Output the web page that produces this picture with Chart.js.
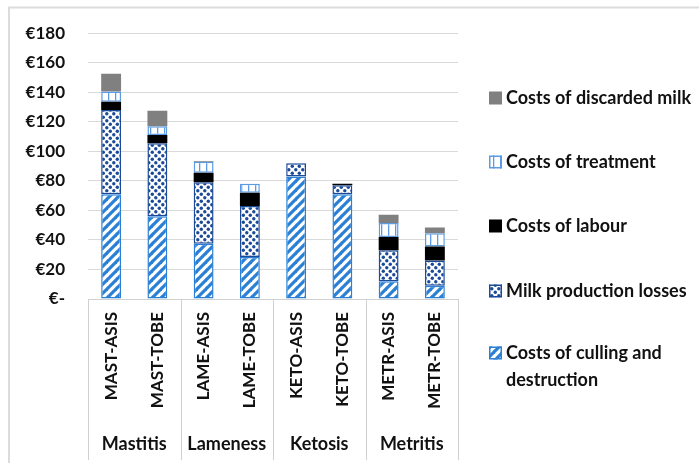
<!DOCTYPE html>
<html>
<head>
<meta charset="utf-8">
<script src="https://cdn.jsdelivr.net/npm/chart.js@4.4.1/dist/chart.umd.min.js"></script>
<style>
  html, body { margin: 0; padding: 0; background: #fff; }
  #wrap { width: 699px; height: 463px; position: relative; }
</style>
</head>
<body>
<div id="wrap"><canvas id="c" width="699" height="463"></canvas></div>
<script>
// ---- Data ----
const categories = ['MAST-ASIS', 'MAST-TOBE', 'LAME-ASIS', 'LAME-TOBE', 'KETO-ASIS', 'KETO-TOBE', 'METR-ASIS', 'METR-TOBE'];
const groups = ['Mastitis', 'Lameness', 'Ketosis', 'Metritis'];
const cullingCosts   = [71, 56, 37.5, 28.5, 83, 71, 12, 9];
const milkLosses     = [57, 49.5, 41.5, 34.5, 9, 6, 21, 17];
const labourCosts    = [5.5, 5.5, 6.5, 9, 0, 1, 9, 9.5];
const treatmentCosts = [7, 6, 7.5, 6, 0, 0, 9.5, 9];
const discardedMilk  = [12, 10.5, 0.5, 0, 0, 0, 5.5, 4];
const seriesNames = ['Costs of culling and destruction', 'Milk production losses', 'Costs of labour', 'Costs of treatment', 'Costs of discarded milk'];
const yTicks = [0, 20, 40, 60, 80, 100, 120, 140, 160, 180];

// ---- Patterns ----
const ctxMain = document.getElementById('c').getContext('2d');
function pat(w, h, draw) {
  const c = document.createElement('canvas');
  c.width = w; c.height = h;
  const g = c.getContext('2d');
  g.fillStyle = '#ffffff';
  g.fillRect(0, 0, w, h);
  draw(g, w, h);
  return ctxMain.createPattern(c, 'repeat');
}
const BLUE = '#2b80d6';
const DARKBLUE = '#1b4b98';
const LIGHTBLUE = '#5c9be3';

const stripePattern = pat(9, 9, (g, w, h) => {
  g.strokeStyle = BLUE; g.lineWidth = 3.2; g.lineCap = 'square';
  for (let k = -1; k <= 1; k++) {
    g.beginPath();
    g.moveTo(k * w, h);
    g.lineTo(k * w + w, 0);
    g.stroke();
  }
});
const dotPattern = pat(7, 7, (g) => {
  g.fillStyle = DARKBLUE;
  [[1.8, 1.8], [5.3, 5.3]].forEach(([x, y]) => {
    g.beginPath(); g.arc(x, y, 1.7, 0, Math.PI * 2); g.fill();
  });
});
const vlinePattern = pat(7, 4, (g, w, h) => {
  g.fillStyle = LIGHTBLUE;
  g.fillRect(3, 0, 1.3, h);
});

const styles = [
  { bg: stripePattern, border: BLUE, bw: 1.5 },
  { bg: dotPattern, border: DARKBLUE, bw: 1.5 },
  { bg: '#000000', border: '#000000', bw: 0 },
  { bg: vlinePattern, border: LIGHTBLUE, bw: 1.5 },
  { bg: '#808080', border: '#808080', bw: 0 }
];
const seriesValues = [cullingCosts, milkLosses, labourCosts, treatmentCosts, discardedMilk];

const datasets = seriesValues.map((vals, i) => ({
  label: seriesNames[i],
  data: vals,
  backgroundColor: styles[i].bg,
  borderColor: styles[i].border,
  borderWidth: styles[i].bw,
  borderSkipped: false,
  categoryPercentage: 1.0,
  barPercentage: 0.43,
  stack: 's'
}));

const FONT = 'Lato';
const TEXT = '#111111';

const framePlugin = {
  id: 'frame',
  beforeDraw(chart) {
    const c = chart.ctx;
    c.save();
    c.fillStyle = '#ffffff';
    c.fillRect(0, 0, chart.width, chart.height);
    c.strokeStyle = '#dcdcdc';
    c.lineWidth = 2;
    c.beginPath();
    c.moveTo(9, 463); c.lineTo(9, 7.5); c.lineTo(699, 7.5);
    c.stroke();
    c.restore();
  },
  afterDraw(chart) {
    const c = chart.ctx;
    const xs = chart.scales.x;
    const area = chart.chartArea;
    c.save();
    // axis line and group separators
    c.strokeStyle = '#d0d0d0';
    c.lineWidth = 1;
    c.beginPath();
    c.moveTo(area.left, area.bottom + 0.5); c.lineTo(area.right, area.bottom + 0.5);
    const seps = [area.left];
    for (let g = 1; g < groups.length; g++) {
      const i = g * 2;
      seps.push((xs.getPixelForValue(i - 1) + xs.getPixelForValue(i)) / 2);
    }
    seps.push(area.right);
    seps.forEach(x => {
      const xx = Math.round(x) + 0.5;
      c.moveTo(xx, area.bottom); c.lineTo(xx, 460);
    });
    c.stroke();
    // group labels
    c.fillStyle = TEXT;
    c.font = 'bold 18px ' + FONT;
    c.textAlign = 'center';
    c.textBaseline = 'middle';
    groups.forEach((name, g) => {
      const cx = (xs.getPixelForValue(g * 2) + xs.getPixelForValue(g * 2 + 1)) / 2;
      c.fillText(name, cx, 444);
    });
    // legend (reversed order)
    const items = chart.data.datasets.map((d, i) => ({ d, i })).reverse();
    const ys = [98, 162, 226, 291, 353];
    c.font = 'bold 18px ' + FONT;
    c.textAlign = 'left';
    items.forEach((it, k) => {
      const y = ys[k];
      const bx = 489, bw = 13, bh = 13;
      c.fillStyle = it.d.backgroundColor;
      c.fillRect(bx, y - bh / 2, bw, bh);
      if (it.d.borderWidth > 0) {
        c.strokeStyle = it.d.borderColor;
        c.lineWidth = 1.5;
        c.strokeRect(bx + 0.75, y - bh / 2 + 0.75, bw - 1.5, bh - 1.5);
      }
      c.fillStyle = TEXT;
      const label = it.d.label;
      if (label === 'Costs of culling and destruction') {
        c.fillText('Costs of culling and', 506, y);
        c.fillText('destruction', 506, y + 27);
      } else {
        c.fillText(label, 506, y);
      }
    });
    c.restore();
  }
};

new Chart(document.getElementById('c'), {
  type: 'bar',
  data: { labels: categories, datasets },
  options: {
    responsive: false,
    animation: false,
    devicePixelRatio: 1,
    layout: { padding: { left: 0, right: 241, top: 31, bottom: 0 } },
    plugins: { legend: { display: false }, tooltip: { enabled: false } },
    scales: {
      x: {
        stacked: true,
        grid: { display: false, drawTicks: false },
        border: { display: false },
        ticks: {
          minRotation: 90, maxRotation: 90, autoSkip: false, padding: 13,
          color: TEXT, font: { family: FONT, size: 17, weight: 'bold' }
        },
        afterFit(scale) { scale.height = 164; }
      },
      y: {
        stacked: true,
        min: 0, max: 180,
        afterBuildTicks(scale) { scale.ticks = yTicks.map(v => ({ value: v })); },
        grid: { color: '#d9d9d9', lineWidth: 1, drawTicks: false },
        border: { display: false },
        ticks: {
          padding: 23, color: TEXT,
          font: { family: FONT, size: 17, weight: 'bold' },
          callback: v => v === 0 ? '€-' : '€' + v
        },
        afterFit(scale) { scale.width = 88; }
      }
    }
  },
  plugins: [framePlugin]
});
</script>
</body>
</html>
